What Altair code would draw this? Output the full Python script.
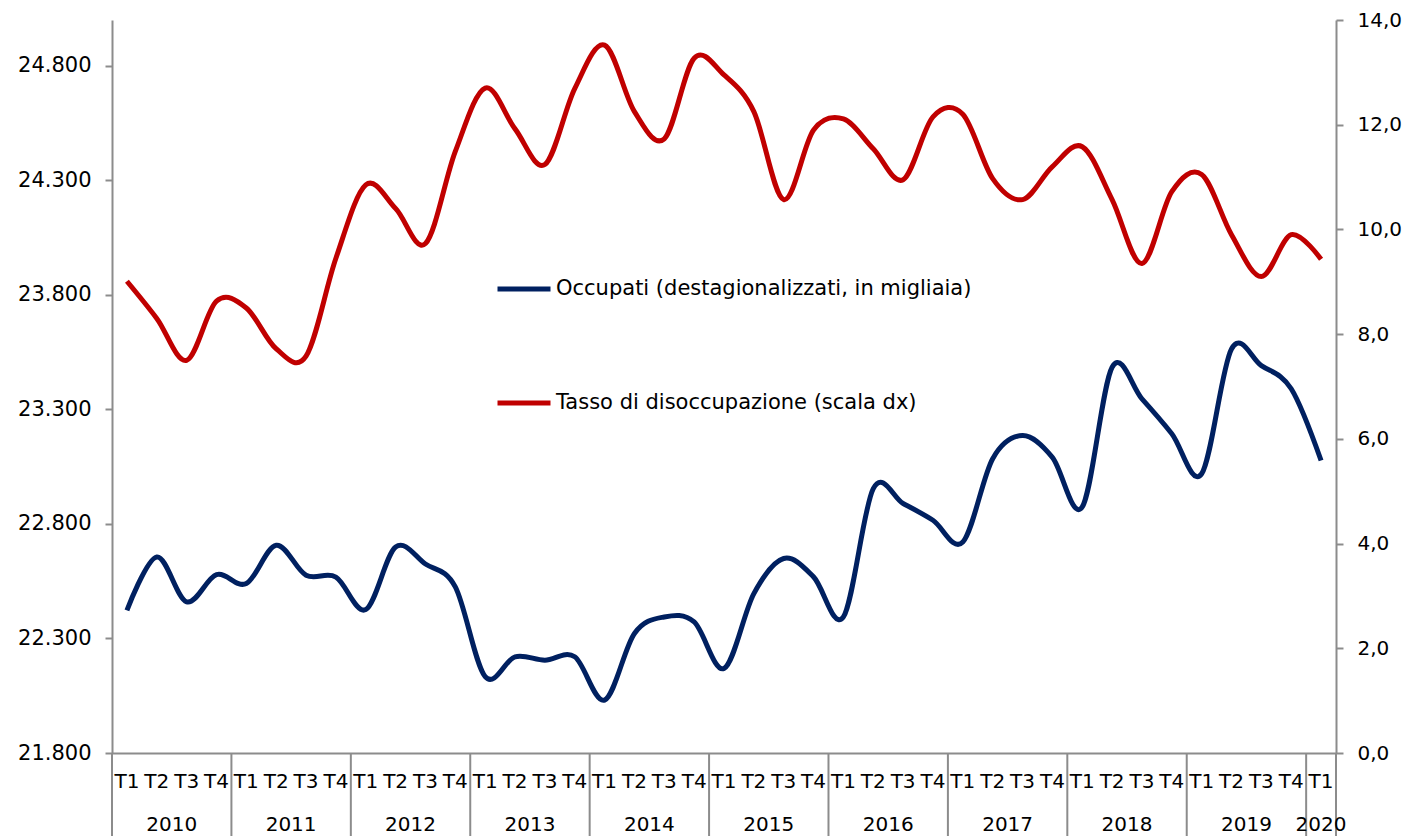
import altair as alt
import pandas as pd

# ---------------- data ----------------
quarters = ["T1", "T2", "T3", "T4"] * 10 + ["T1"]
years = ["2010", "2011", "2012", "2013", "2014", "2015", "2016", "2017", "2018", "2019", "2020"]
quarters_per_year = [4, 4, 4, 4, 4, 4, 4, 4, 4, 4, 1]

occupati = [22423, 22656, 22460, 22579, 22540, 22707, 22576, 22568,
            22426, 22699, 22625, 22525, 22133, 22220, 22205, 22220,
            22031, 22322, 22394, 22372, 22169, 22496, 22649, 22569,
            22394, 22954, 22889, 22816, 22721, 23085, 23186, 23091,
            22874, 23484, 23346, 23194, 23019, 23564, 23491, 23390,
            23077]
tasso = [9.01, 8.30, 7.50, 8.63, 8.50, 7.72, 7.58, 9.45,
         10.85, 10.40, 9.73, 11.49, 12.70, 11.92, 11.24, 12.69,
         13.52, 12.25, 11.73, 13.27, 12.95, 12.25, 10.57, 11.90,
         12.11, 11.54, 10.95, 12.15, 12.20, 10.97, 10.57, 11.20,
         11.58, 10.57, 9.35, 10.72, 11.05, 9.90, 9.10, 9.90,
         9.43]

left_ticks = [21800, 22300, 22800, 23300, 23800, 24300, 24800]
right_ticks = [0, 2, 4, 6, 8, 10, 12, 14]

serie_occ = "Occupati (destagionalizzati, in migliaia)"
serie_tasso = "Tasso di disoccupazione (scala dx)"

# ---------------- tables ----------------
n = len(quarters)
df_occ = pd.DataFrame({"i": list(range(n)), "v": occupati, "serie": serie_occ})
df_tasso = pd.DataFrame({"i": list(range(n)), "v": tasso, "serie": serie_tasso})
df_q = pd.DataFrame({"i": list(range(n)), "q": quarters})

starts = []
s = 0
for c in quarters_per_year:
    starts.append(s)
    s += c
df_years = pd.DataFrame({
    "year": years,
    "center": [st + (c - 1) / 2 for st, c in zip(starts, quarters_per_year)],
})
df_sep = pd.DataFrame({"pos": [st - 0.5 for st in starts] + [n - 0.5]})

# ---------------- style ----------------
FONT = "DejaVu Sans"
GRAY = "#8c8c8c"
BLUE = "#002060"
RED = "#C00000"
TOP = 12
W, H = 1224, 753 - 8 - TOP

x_scale = alt.Scale(domain=[-0.5, n - 0.5], nice=False, zero=False)

x_axis = alt.Axis(
    labels=False, ticks=False, grid=False, title=None,
    domainColor=GRAY, domainWidth=2,
)

color_enc = alt.Color(
    "serie:N",
    scale=alt.Scale(domain=[serie_occ, serie_tasso], range=[BLUE, RED]),
    legend=alt.Legend(
        orient="none", legendX=383, legendY=252 - TOP, title=None,
        direction="vertical",
        symbolType="stroke", symbolStrokeWidth=5, symbolSize=2809,
        labelFont=FONT, labelFontSize=21, labelColor="#000000",
        labelLimit=1000, labelOffset=3, rowPadding=75, padding=0,
    ),
)

line_occ = alt.Chart(df_occ).mark_line(
    strokeWidth=5, interpolate="cardinal"
).encode(
    x=alt.X("i:Q", scale=x_scale, axis=x_axis),
    y=alt.Y(
        "v:Q",
        scale=alt.Scale(domain=[21800, 25000], nice=False, zero=False),
        axis=alt.Axis(
            orient="left", values=left_ticks,
            labelExpr="replace(format(datum.value, ','), ',', '.')",
            grid=False, title=None,
            tickSize=7, tickColor=GRAY, tickWidth=2,
            domainColor=GRAY, domainWidth=2,
            labelFont=FONT, labelFontSize=21, labelColor="#000000",
            labelPadding=14,
        ),
    ),
    color=color_enc,
)

line_tasso = alt.Chart(df_tasso).mark_line(
    strokeWidth=5, interpolate="cardinal"
).encode(
    x=alt.X("i:Q", scale=x_scale, axis=x_axis),
    y=alt.Y(
        "v:Q",
        scale=alt.Scale(domain=[0, 14], nice=False),
        axis=alt.Axis(
            orient="right", values=right_ticks,
            labelExpr="replace(format(datum.value, '.1f'), '.', ',')",
            grid=False, title=None,
            tickSize=7, tickColor=GRAY, tickWidth=2,
            domainColor=GRAY, domainWidth=2,
            labelFont=FONT, labelFontSize=20, labelColor="#000000",
            labelPadding=14,
        ),
    ),
    color=color_enc,
)

seps = alt.Chart(df_sep).mark_rule(color=GRAY, strokeWidth=2).encode(
    x=alt.X("pos:Q", scale=x_scale, axis=x_axis),
    y=alt.value(H),
    y2=alt.value(H + 95),
)

quarter_text = alt.Chart(df_q).mark_text(
    font=FONT, fontSize=20, color="#000000", baseline="middle", align="center"
).encode(
    x=alt.X("i:Q", scale=x_scale, axis=x_axis),
    y=alt.value(H + 29),
    text="q:N",
)

year_text = alt.Chart(df_years).mark_text(
    font=FONT, fontSize=20, color="#000000", baseline="middle", align="center"
).encode(
    x=alt.X("center:Q", scale=x_scale, axis=x_axis),
    y=alt.value(H + 72),
    text="year:N",
)

chart = alt.layer(line_occ, line_tasso, seps, quarter_text, year_text).resolve_scale(
    y="independent"
).properties(
    width=W, height=H,
    autosize=alt.AutoSizeParams(type="none"),
    padding={"left": 104, "top": TOP, "right": 67, "bottom": 85},
    background="white",
).configure_view(stroke=None)

chart.save("out.html", embed_options={"renderer": "svg", "actions": False})
